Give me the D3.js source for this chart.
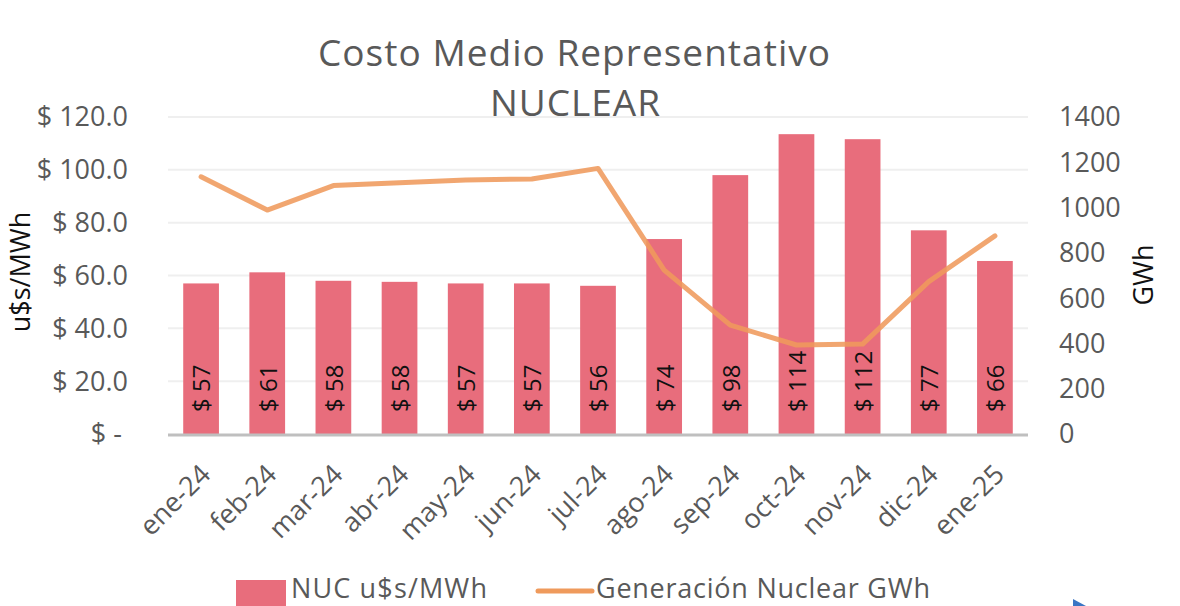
<!DOCTYPE html>
<html><head><meta charset="utf-8">
<script src="https://cdn.jsdelivr.net/npm/d3@7"></script>
<style>html,body{margin:0;padding:0;background:#fff;}svg{display:block;font-family:"Open Sans",sans-serif;}</style>
</head><body>
<svg id="chart" width="1180" height="606"></svg>
<script>
const categories = ["ene-24","feb-24","mar-24","abr-24","may-24","jun-24","jul-24","ago-24","sep-24","oct-24","nov-24","dic-24","ene-25"];
const costValues = [57.0, 61.2, 58.0, 57.6, 57.0, 57.0, 56.1, 73.8, 98.0, 113.5, 111.6, 77.1, 65.5];
const genValues = [1136, 989, 1097, 1110, 1122, 1126, 1173, 724, 481, 393, 397, 673, 875];
const leftTicks = [0, 20, 40, 60, 80, 100, 120];
const rightTicks = [0, 200, 400, 600, 800, 1000, 1200, 1400];
const titleLines = ["Costo Medio Representativo", "NUCLEAR"];
const seriesNames = ["NUC u$s/MWh", "Generación Nuclear GWh"];
const axisTitles = ["u$s/MWh", "GWh"];

const svg = d3.select("#chart");
const m = {left: 168, right: 1028, top: 117, bottom: 434};
const x = d3.scaleBand().domain(categories).range([m.left, m.right]).paddingInner(0.46).paddingOuter(0.23);
const yL = d3.scaleLinear().domain([0, 120]).range([m.bottom, m.top]);
const yR = d3.scaleLinear().domain([0, 1400]).range([m.bottom, m.top]);
const grey = "#595959";

// gridlines
svg.append("g").selectAll("line").data(leftTicks.filter(d => d > 0)).join("line")
  .attr("x1", m.left).attr("x2", m.right)
  .attr("y1", d => yL(d)).attr("y2", d => yL(d))
  .attr("stroke", "#EFEFEF").attr("stroke-width", 2);

// title
svg.append("text").attr("x", 574).attr("y", 66).attr("text-anchor", "middle")
  .attr("font-size", 37).attr("fill", grey).attr("textLength", 512).attr("lengthAdjust", "spacing")
  .text(titleLines[0]);
svg.append("text").attr("x", 575).attr("y", 116).attr("text-anchor", "middle")
  .attr("font-size", 37).attr("fill", grey).attr("textLength", 170).attr("lengthAdjust", "spacing")
  .text(titleLines[1]);

// bars
svg.append("g").selectAll("rect").data(costValues).join("rect")
  .attr("x", (d, i) => x(categories[i]))
  .attr("width", x.bandwidth())
  .attr("y", d => yL(d))
  .attr("height", d => yL(0) - yL(d))
  .attr("fill", "#E86D7C");

// bar labels
svg.append("g").selectAll("text").data(costValues).join("text")
  .attr("transform", (d, i) => `translate(${x(categories[i]) + x.bandwidth() / 2 + 1},412) rotate(-90)`)
  .attr("dy", "0.35em")
  .attr("font-size", 24).attr("fill", "#111")
  .text(d => "$ " + d3.format(".0f")(d));

// axis baseline
svg.append("line").attr("x1", m.left).attr("x2", m.right).attr("y1", m.bottom + 1).attr("y2", m.bottom + 1)
  .attr("stroke", "#BFBFBF").attr("stroke-width", 3);

// line
const line = d3.line().x((d, i) => x(categories[i]) + x.bandwidth() / 2).y(d => yR(d));
svg.append("path").datum(genValues).attr("d", line)
  .attr("fill", "none").attr("stroke", "#EF9A5C").attr("stroke-opacity", 0.88)
  .attr("stroke-width", 5).attr("stroke-linejoin", "round").attr("stroke-linecap", "round");

// left axis labels
svg.append("g").selectAll("text").data(leftTicks).join("text")
  .attr("x", d => d === 0 ? 122 : 128).attr("y", d => yL(d)).attr("dy", "0.35em")
  .attr("text-anchor", "end").attr("font-size", 27).attr("fill", grey)
  .text(d => d === 0 ? "$ -" : "$ " + d3.format(".1f")(d));

// right axis labels
svg.append("g").selectAll("text").data(rightTicks).join("text")
  .attr("x", 1059).attr("y", d => yR(d)).attr("dy", "0.35em")
  .attr("text-anchor", "start").attr("font-size", 27).attr("fill", grey)
  .text(d => d);

// x labels
svg.append("g").selectAll("text").data(categories).join("text")
  .attr("transform", d => `translate(${x(d) + x.bandwidth() / 2 + 11},476) rotate(-45)`)
  .attr("text-anchor", "end").attr("font-size", 27).attr("fill", grey)
  .text(d => d);

// axis titles
svg.append("text").attr("transform", "translate(30,272) rotate(-90)")
  .attr("text-anchor", "middle").attr("font-size", 27).attr("fill", "#111").text(axisTitles[0]);
svg.append("text").attr("transform", "translate(1153,275) rotate(-90)")
  .attr("text-anchor", "middle").attr("font-size", 27).attr("fill", "#111").text(axisTitles[1]);

// legend
const lg = svg.append("g");
lg.append("rect").attr("x", 236).attr("y", 580).attr("width", 50).attr("height", 30).attr("fill", "#E86D7C");
lg.append("text").attr("x", 291).attr("y", 598).attr("font-size", 27).attr("fill", grey)
  .attr("textLength", 196).attr("lengthAdjust", "spacing").text(seriesNames[0]);
lg.append("line").attr("x1", 538).attr("x2", 592).attr("y1", 591).attr("y2", 591)
  .attr("stroke", "#EF9A5C").attr("stroke-width", 5).attr("stroke-linecap", "round");
lg.append("text").attr("x", 596).attr("y", 598).attr("font-size", 27).attr("fill", grey)
  .attr("textLength", 334).attr("lengthAdjust", "spacing").text(seriesNames[1]);

// slide corner marker
svg.append("path").attr("d", "M1073,599 L1073,606 L1086,606 Z").attr("fill", "#3A75C4");
</script>
</body></html>
